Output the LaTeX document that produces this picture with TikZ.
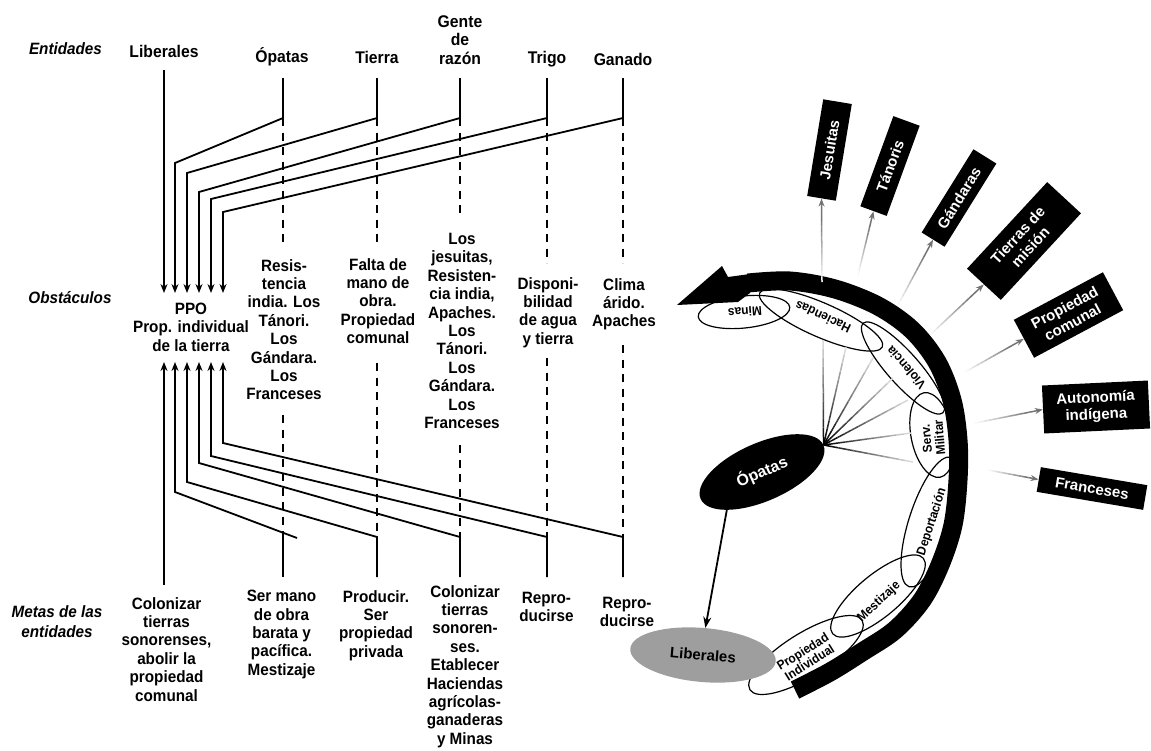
\documentclass[tikz,border=0pt]{standalone}
\usepackage{fontspec}
\newfontfamily\dg{Liberation Sans}[FakeStretch=0.93]
\newfontfamily\plain{Liberation Sans}
\usetikzlibrary{shapes.geometric,arrows.meta,calc}

% a straight line whose grey level changes gradually from #3 to #4
\newcommand\fadeline[4]{%
  \foreach \k in {0,...,11}{%
    \pgfmathtruncatemacro\sh{#3+(#4-#3)*\k/11}%
    \pgfmathsetmacro\ta{\k/12}%
    \pgfmathsetmacro\tb{(\k+1)/12}%
    \draw[line width=1.5pt, black!\sh] ($(#1)!\ta!(#2)$) -- ($(#1)!\tb!(#2)$);
  }}

\begin{document}
\begin{tikzpicture}[x=1pt,y=-1pt,
  wire/.style={line width=1.8pt},
  dline/.style={line width=1.8pt, dash pattern=on 8pt off 6.5pt},
  tip/.style={-{Stealth[length=9pt,width=7pt]}},
  body/.style={font=\dg\bfseries\fontsize{16.4}{18.4}\selectfont, align=center, inner sep=0pt, anchor=north},
  head/.style={font=\dg\bfseries\fontsize{16.9}{18.8}\selectfont, align=center, inner sep=0pt},
  side/.style={font=\dg\bfseries\itshape\fontsize{16.4}{20}\selectfont, align=center, inner sep=0pt},
  ring/.style={ellipse, draw, line width=1.2pt, inner sep=0pt},
  rtext/.style={font=\dg\bfseries\fontsize{12.8}{13}\selectfont, inner sep=0pt, align=center},
  bbox/.style={fill=black, text=white, font=\plain\bfseries\fontsize{15}{17}\selectfont, align=center, inner sep=0pt},
  grayarrow/.style={line width=1.5pt, black!55, -{Stealth[length=8pt,width=6pt]}},
]
\useasboundingbox (0,0) rectangle (1151,750);

% ---------- row labels ----------
\node[side] (sEnt) at (65.5,49) {Entidades};
\node[side] (sObs) at (70,298) {Obstáculos};
\node[side, anchor=north] (sMet) at (57,605) {Metas de las\\entidades};

% ---------- entities ----------
\node[head, anchor=base] (hLib) at (164,57) {Liberales};
\node[head, anchor=base] (hOpa) at (282,62) {Ópatas};
\node[head, anchor=base] (hTie) at (377,63) {Tierra};
\node[head, anchor=north] (hGen) at (460,15) {Gente\\de\\razón};
\node[head, anchor=base] (hTri) at (547,63) {Trigo};
\node[head, anchor=base] (hGan) at (623,65) {Ganado};

% ---------- obstacles ----------
\node[body] (ppo) at (191,302.7) {PPO\\Prop. individual\\de la tierra};
\node[body] (bO) at (284,259) {Resis-\\tencia\\india. Los\\Tánori.\\Los\\Gándara.\\Los\\Franceses};
\node[body] (bT) at (378,258) {Falta de\\mano de\\obra.\\Propiedad\\comunal};
\node[body] (bG) at (462,233) {Los\\jesuitas,\\Resisten-\\cia india,\\Apaches.\\Los\\Tánori.\\Los\\Gándara.\\Los\\Franceses};
\node[body] (bR) at (548,277) {Disponi-\\bilidad\\de agua\\y tierra};
\node[body] (bN) at (624,278) {Clima\\árido.\\Apaches};

% ---------- goals ----------
\node[body] (gL) at (166.5,597) {Colonizar\\tierras\\sonorenses,\\abolir la\\propiedad\\comunal};
\node[body] (gO) at (281.5,590) {Ser mano\\de obra\\barata y\\pacífica.\\Mestizaje};
\node[body] (gT) at (376,590) {Producir.\\Ser\\propiedad\\privada};
\node[body] (gG) at (465,585) {Colonizar\\tierras\\sonoren-\\ses.\\Etablecer\\Haciendas\\agrícolas-\\ganaderas\\y Minas};
\node[body] (gR) at (546.5,592) {Repro-\\ducirse};
\node[body] (gN) at (627,597) {Repro-\\ducirse};

% ---------- routing points ----------
\coordinate (cLt) at (164,70);  \coordinate (cLa) at (164,293);
\coordinate (cOt) at (283,78);  \coordinate (cOj) at (283,118); \coordinate (cOk) at (175,163); \coordinate (cOa) at (175,293);
\coordinate (cTt) at (377,78);  \coordinate (cTj) at (377,118); \coordinate (cTk) at (187,173); \coordinate (cTa) at (187,293);
\coordinate (cGt) at (460,78);  \coordinate (cGj) at (460,118); \coordinate (cGk) at (199,192); \coordinate (cGa) at (199,293);
\coordinate (cRt) at (547,78);  \coordinate (cRj) at (547,118); \coordinate (cRk) at (211,199); \coordinate (cRa) at (211,293);
\coordinate (cNt) at (623,78);  \coordinate (cNj) at (623,118); \coordinate (cNk) at (223,212); \coordinate (cNa) at (223,293);

\coordinate (dLb) at (164,585); \coordinate (dLa) at (164,362);
\coordinate (dOb) at (283,577); \coordinate (dOj) at (283,533); \coordinate (dOe) at (297,538); \coordinate (dOk) at (175,492); \coordinate (dOa) at (175,362);
\coordinate (dTb) at (377,577); \coordinate (dTj) at (377,537); \coordinate (dTk) at (187,482); \coordinate (dTa) at (187,362);
\coordinate (dGb) at (460,577); \coordinate (dGj) at (460,537); \coordinate (dGk) at (199,463); \coordinate (dGa) at (199,362);
\coordinate (dRb) at (547,577); \coordinate (dRj) at (547,537); \coordinate (dRk) at (211,456); \coordinate (dRa) at (211,362);
\coordinate (dNb) at (623,577); \coordinate (dNj) at (623,537); \coordinate (dNk) at (223,443); \coordinate (dNa) at (223,362);

% dashed column ends around the obstacle texts
\coordinate (xO1) at (283,248); \coordinate (xO2) at (283,415);
\coordinate (xT1) at (377,248); \coordinate (xT2) at (377,363);
\coordinate (xG1) at (460,218); \coordinate (xG2) at (460,445);
\coordinate (xR1) at (547,263); \coordinate (xR2) at (547,358);
\coordinate (xN1) at (623,263); \coordinate (xN2) at (623,345);

% ---------- entity -> obstacle ----------
\draw[wire,tip] (cLt) -- (cLa);
\draw[wire,tip] (cOt) -- (cOj) -- (cOk) -- (cOa);
\draw[wire,tip] (cTt) -- (cTj) -- (cTk) -- (cTa);
\draw[wire,tip] (cGt) -- (cGj) -- (cGk) -- (cGa);
\draw[wire,tip] (cRt) -- (cRj) -- (cRk) -- (cRa);
\draw[wire,tip] (cNt) -- (cNj) -- (cNk) -- (cNa);

% ---------- goal -> obstacle ----------
\draw[wire,tip] (dLb) -- (dLa);
\draw[wire] (dOb) -- (dOj);
\draw[wire,tip] (dOe) -- (dOk) -- (dOa);
\draw[wire,tip] (dTb) -- (dTj) -- (dTk) -- (dTa);
\draw[wire,tip] (dGb) -- (dGj) -- (dGk) -- (dGa);
\draw[wire,tip] (dRb) -- (dRj) -- (dRk) -- (dRa);
\draw[wire,tip] (dNb) -- (dNj) -- (dNk) -- (dNa);

% ---------- dashed columns ----------
\draw[dline] (cOj) -- (xO1); \draw[dline] (xO2) -- (dOj);
\draw[dline] (cTj) -- (xT1); \draw[dline] (xT2) -- (dTj);
\draw[dline] (cGj) -- (xG1); \draw[dline] (xG2) -- (dGj);
\draw[dline] (cRj) -- (xR1); \draw[dline] (xR2) -- (dRj);
\draw[dline] (cNj) -- (xN1); \draw[dline] (xN2) -- (dNj);

% ================= right-hand scheme =================
% curved band with its arrow head
\draw[line width=19pt, black] plot[smooth, tension=0.55] coordinates {(795,690) (830,672) (862,652) (895,630) (922,600) (940,565) (953,525) (958,480) (958,440) (952,400) (937,362) (912,330) (878,306) (835,289) (790,281) (748,283)};
\fill[black] (677,305) -- (722,266) -- (728,277) -- (750,274) -- (750,293) -- (738,302) -- cycle;

% stages along the band
\node[ring, minimum width=92pt,  minimum height=32pt, rotate=6]     (eMin) at (744,312) {};
\node[ring, minimum width=134pt, minimum height=34pt, rotate=-23.7] (eHac) at (821,320) {};
\node[ring, minimum width=120pt, minimum height=32pt, rotate=-48.4] (eVio) at (903,368) {};
\node[ring, minimum width=86pt,  minimum height=42pt, rotate=101]   (eSer) at (932,435) {};
\node[ring, minimum width=136pt, minimum height=42pt, rotate=72]    (eDep) at (930,522) {};
\node[ring, minimum width=118pt, minimum height=42pt, rotate=39.8]  (eMes) at (878,596) {};
\node[ring, minimum width=132pt, minimum height=44pt, rotate=31.8]  (ePro) at (806,655) {};

\node[rtext, rotate=184] (tMin) at (745,312) {Minas};
\node[rtext, rotate=155] (tHac) at (823,317) {Haciendas};
\node[rtext, rotate=131] (tVio) at (906,368) {Violencia};
\node[rtext, rotate=95]  (tSer) at (933,438) {Serv.\\Militar};
\node[rtext, rotate=72]  (tDep) at (932,522) {Deportación};
\node[rtext, rotate=43]  (tMes) at (879,602) {Mestizaje};
\node[rtext, rotate=32]  (tPro) at (806,657) {Propiedad\\Individual};

% Ópatas and its rays
\node[ellipse, fill=black, text=white, inner sep=0pt, minimum width=134pt, minimum height=58pt,
      rotate=23.7, font=\plain\bfseries\fontsize{16}{17}\selectfont] (eOpa) at (762,472) {Ópatas};
\coordinate (r1) at (823,340);
\coordinate (r2) at (846,347);
\coordinate (r3) at (873,358);
\coordinate (r4) at (893,378);
\coordinate (r5) at (908,400);
\coordinate (r6) at (911,433);
\coordinate (r7) at (913,462);
\foreach \r in {r1,r2,r3,r4,r5,r6,r7}{\fadeline{eOpa.east}{\r}{100}{15}}

% outer entities
\node[bbox, minimum width=98pt,  minimum height=29pt, rotate=80.6] (bJes) at (829.5,150) {Jesuitas};
\node[bbox, minimum width=96pt,  minimum height=28pt, rotate=69.9] (bTan) at (890,166) {Tánoris};
\node[bbox, minimum width=98pt,  minimum height=27pt, rotate=58.1] (bGan) at (959,198) {Gándaras};
\node[bbox, minimum width=118pt, minimum height=46pt, rotate=47.2] (bTie) at (1024,241) {Tierras de\\misión};
\node[bbox, minimum width=101pt, minimum height=43pt, rotate=28.1] (bPro) at (1068.5,315) {Propiedad\\comunal};
\node[bbox, minimum width=106pt, minimum height=48pt, rotate=2.7]  (bAut) at (1096,407) {Autonomía\\indígena};
\node[bbox, minimum width=108pt, minimum height=25pt, rotate=-9.6] (bFra) at (1092,488.5) {Franceses};

\coordinate (aJes) at (822,282);
\coordinate (aTan) at (858,275);
\coordinate (aGan) at (898,305);
\coordinate (aTie) at (930,335);
\coordinate (aPro) at (965,372);
\coordinate (aAut) at (975,423);
\coordinate (aFra) at (988,470);
\foreach \s/\b in {aJes/bJes,aTan/bTan,aGan/bGan,aTie/bTie,aPro/bPro,aAut/bAut,aFra/bFra}{%
  \coordinate (m) at ($(\s)!0.8!(\b.west)$);
  \fadeline{\s}{m}{3}{55}
  \draw[grayarrow] (m) -- (\b.west);
}

% Liberales
\node[ellipse, fill=black!38, inner sep=0pt, minimum width=146pt, minimum height=54pt, rotate=-5,
      font=\plain\bfseries\fontsize{15}{16}\selectfont] (eLib) at (703,655) {Liberales};
\coordinate (oLs) at (727,509);
\draw[line width=1.8pt, -{Stealth[length=11pt,width=8pt]}] (oLs) -- (eLib.north);
\end{tikzpicture}
\end{document}
